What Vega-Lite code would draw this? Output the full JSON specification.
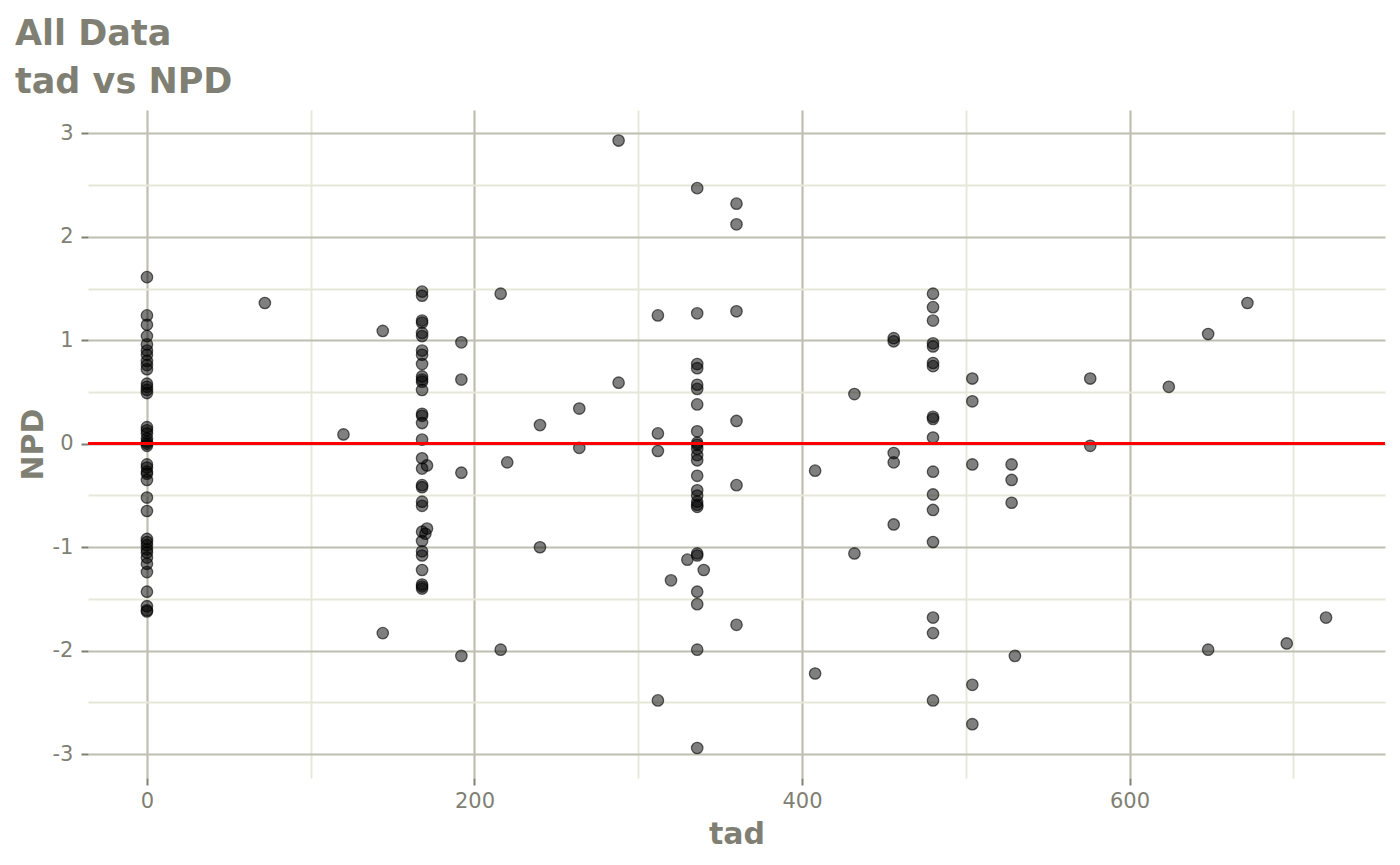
{
  "$schema": "https://vega.github.io/schema/vega-lite/v6.json",
  "width": 1297,
  "height": 668,
  "autosize": {"type": "none"},
  "padding": {"left": 88, "top": 110, "right": 15, "bottom": 87},
  "background": "white",
  "config": {
    "view": {"stroke": null},
    "font": "DejaVu Sans"
  },
  "title": {
    "text": ["All Data", "tad vs NPD"],
    "anchor": "start",
    "frame": "group",
    "dx": -73,
    "fontSize": 35,
    "lineHeight": 48,
    "font": "DejaVu Sans",
    "fontWeight": "bold",
    "color": "#7f7f74",
    "offset": 10
  },
  "data": {
    "values": [
      {"tad": 0, "NPD": 1.61}, {"tad": 0, "NPD": 1.24}, {"tad": 0, "NPD": 1.15}, {"tad": 0, "NPD": 1.04},
      {"tad": 0, "NPD": 0.96}, {"tad": 0, "NPD": 0.9}, {"tad": 0, "NPD": 0.86}, {"tad": 0, "NPD": 0.8},
      {"tad": 0, "NPD": 0.76}, {"tad": 0, "NPD": 0.72}, {"tad": 0, "NPD": 0.58}, {"tad": 0, "NPD": 0.55},
      {"tad": 0, "NPD": 0.52}, {"tad": 0, "NPD": 0.49}, {"tad": 0, "NPD": 0.16}, {"tad": 0, "NPD": 0.13},
      {"tad": 0, "NPD": 0.1}, {"tad": 0, "NPD": 0.05}, {"tad": 0, "NPD": 0.02}, {"tad": 0, "NPD": 0.0},
      {"tad": 0, "NPD": -0.02}, {"tad": 0, "NPD": -0.2}, {"tad": 0, "NPD": -0.23}, {"tad": 0, "NPD": -0.27},
      {"tad": 0, "NPD": -0.29}, {"tad": 0, "NPD": -0.35}, {"tad": 0, "NPD": -0.52}, {"tad": 0, "NPD": -0.65},
      {"tad": 0, "NPD": -0.92}, {"tad": 0, "NPD": -0.95}, {"tad": 0, "NPD": -0.98}, {"tad": 0, "NPD": -1.02},
      {"tad": 0, "NPD": -1.05}, {"tad": 0, "NPD": -1.1}, {"tad": 0, "NPD": -1.16}, {"tad": 0, "NPD": -1.24},
      {"tad": 0, "NPD": -1.43}, {"tad": 0, "NPD": -1.57}, {"tad": 0, "NPD": -1.61}, {"tad": 0, "NPD": -1.62},
      {"tad": 72, "NPD": 1.36},
      {"tad": 120, "NPD": 0.09},
      {"tad": 144, "NPD": 1.09}, {"tad": 144, "NPD": -1.83},
      {"tad": 168, "NPD": 1.47}, {"tad": 168, "NPD": 1.43}, {"tad": 168, "NPD": 1.19}, {"tad": 168, "NPD": 1.17},
      {"tad": 168, "NPD": 1.07}, {"tad": 168, "NPD": 1.04}, {"tad": 168, "NPD": 0.9}, {"tad": 168, "NPD": 0.86},
      {"tad": 168, "NPD": 0.77}, {"tad": 168, "NPD": 0.65}, {"tad": 168, "NPD": 0.62}, {"tad": 168, "NPD": 0.6},
      {"tad": 168, "NPD": 0.52}, {"tad": 168, "NPD": 0.29}, {"tad": 168, "NPD": 0.27}, {"tad": 168, "NPD": 0.2},
      {"tad": 168, "NPD": 0.04}, {"tad": 168, "NPD": -0.14}, {"tad": 168, "NPD": -0.24}, {"tad": 168, "NPD": -0.4},
      {"tad": 168, "NPD": -0.42}, {"tad": 168, "NPD": -0.56}, {"tad": 168, "NPD": -0.6}, {"tad": 168, "NPD": -0.85},
      {"tad": 168, "NPD": -0.94}, {"tad": 168, "NPD": -1.04}, {"tad": 168, "NPD": -1.08}, {"tad": 168, "NPD": -1.22},
      {"tad": 168, "NPD": -1.36}, {"tad": 168, "NPD": -1.38}, {"tad": 168, "NPD": -1.4},
      {"tad": 171, "NPD": -0.21}, {"tad": 171, "NPD": -0.82}, {"tad": 170, "NPD": -0.87},
      {"tad": 192, "NPD": 0.98}, {"tad": 192, "NPD": 0.62}, {"tad": 192, "NPD": -0.28}, {"tad": 192, "NPD": -2.05},
      {"tad": 216, "NPD": 1.45}, {"tad": 216, "NPD": -1.99}, {"tad": 220, "NPD": -0.18},
      {"tad": 240, "NPD": 0.18}, {"tad": 240, "NPD": -1.0},
      {"tad": 264, "NPD": 0.34}, {"tad": 264, "NPD": -0.04},
      {"tad": 288, "NPD": 2.93}, {"tad": 288, "NPD": 0.59},
      {"tad": 312, "NPD": 1.24}, {"tad": 312, "NPD": 0.1}, {"tad": 312, "NPD": -0.07}, {"tad": 312, "NPD": -2.48},
      {"tad": 320, "NPD": -1.32},
      {"tad": 330, "NPD": -1.12},
      {"tad": 336, "NPD": 2.47}, {"tad": 336, "NPD": 1.26}, {"tad": 336, "NPD": 0.77}, {"tad": 336, "NPD": 0.73},
      {"tad": 336, "NPD": 0.57}, {"tad": 336, "NPD": 0.53}, {"tad": 336, "NPD": 0.38}, {"tad": 336, "NPD": 0.12},
      {"tad": 336, "NPD": 0.01}, {"tad": 336, "NPD": -0.01}, {"tad": 336, "NPD": -0.05}, {"tad": 336, "NPD": -0.11},
      {"tad": 336, "NPD": -0.16}, {"tad": 336, "NPD": -0.31}, {"tad": 336, "NPD": -0.45}, {"tad": 336, "NPD": -0.5},
      {"tad": 336, "NPD": -0.56}, {"tad": 336, "NPD": -0.59}, {"tad": 336, "NPD": -0.61}, {"tad": 336, "NPD": -1.06},
      {"tad": 336, "NPD": -1.08}, {"tad": 336, "NPD": -1.43}, {"tad": 336, "NPD": -1.55}, {"tad": 336, "NPD": -1.99},
      {"tad": 336, "NPD": -2.94},
      {"tad": 340, "NPD": -1.22},
      {"tad": 360, "NPD": 2.32}, {"tad": 360, "NPD": 2.12}, {"tad": 360, "NPD": 1.28}, {"tad": 360, "NPD": 0.22},
      {"tad": 360, "NPD": -0.4}, {"tad": 360, "NPD": -1.75},
      {"tad": 408, "NPD": -0.26}, {"tad": 408, "NPD": -2.22},
      {"tad": 432, "NPD": 0.48}, {"tad": 432, "NPD": -1.06},
      {"tad": 456, "NPD": 1.02}, {"tad": 456, "NPD": 0.99}, {"tad": 456, "NPD": -0.09}, {"tad": 456, "NPD": -0.18},
      {"tad": 456, "NPD": -0.78},
      {"tad": 480, "NPD": 1.45}, {"tad": 480, "NPD": 1.32}, {"tad": 480, "NPD": 1.19}, {"tad": 480, "NPD": 0.97},
      {"tad": 480, "NPD": 0.94}, {"tad": 480, "NPD": 0.78}, {"tad": 480, "NPD": 0.75}, {"tad": 480, "NPD": 0.26},
      {"tad": 480, "NPD": 0.24}, {"tad": 480, "NPD": 0.06}, {"tad": 480, "NPD": -0.27}, {"tad": 480, "NPD": -0.49},
      {"tad": 480, "NPD": -0.64}, {"tad": 480, "NPD": -0.95}, {"tad": 480, "NPD": -1.68}, {"tad": 480, "NPD": -1.83},
      {"tad": 480, "NPD": -2.48},
      {"tad": 504, "NPD": 0.63}, {"tad": 504, "NPD": 0.41}, {"tad": 504, "NPD": -0.2}, {"tad": 504, "NPD": -2.33},
      {"tad": 504, "NPD": -2.71},
      {"tad": 528, "NPD": -0.2}, {"tad": 528, "NPD": -0.35}, {"tad": 528, "NPD": -0.57}, {"tad": 530, "NPD": -2.05},
      {"tad": 576, "NPD": 0.63}, {"tad": 576, "NPD": -0.02},
      {"tad": 624, "NPD": 0.55},
      {"tad": 648, "NPD": 1.06}, {"tad": 648, "NPD": -1.99},
      {"tad": 672, "NPD": 1.36},
      {"tad": 696, "NPD": -1.93},
      {"tad": 720, "NPD": -1.68}
    ]
  },
  "layer": [
    {
      "mark": {"type": "point", "filled": false, "shape": "circle", "size": 130, "fill": "black", "fillOpacity": 0.5, "stroke": "black", "strokeOpacity": 0.6, "strokeWidth": 1.3},
      "encoding": {
        "x": {
          "field": "tad", "type": "quantitative",
          "scale": {"domain": [-36, 756], "nice": false, "zero": false},
          "axis": {
            "values": [0, 100, 200, 300, 400, 500, 600, 700],
            "labelExpr": "datum.value % 200 === 0 ? toString(datum.value) : ''",
            "domain": false,
            "grid": true,
            "gridColor": {"condition": {"test": "datum.value % 200 === 0", "value": "#bebeb1"}, "value": "#e6e7d8"},
            "gridWidth": {"condition": {"test": "datum.value % 200 === 0", "value": 2.2}, "value": 1.8},
            "ticks": true,
            "tickSize": 7,
            "tickWidth": 2,
            "tickColor": "#7f7f74",
            "tickOpacity": {"condition": {"test": "datum.value % 200 === 0", "value": 1}, "value": 0},
            "labelFontSize": 21,
            "labelColor": "#7f7f74",
            "labelFont": "DejaVu Sans",
            "labelPadding": 5,
            "title": "tad",
            "titleFontSize": 30,
            "titleFont": "DejaVu Sans",
            "titleFontWeight": "bold",
            "titleColor": "#7f7f74",
            "titlePadding": 8
          }
        },
        "y": {
          "field": "NPD", "type": "quantitative",
          "scale": {"domain": [-3.23, 3.225], "nice": false, "zero": false},
          "axis": {
            "values": [-3, -2.5, -2, -1.5, -1, -0.5, 0, 0.5, 1, 1.5, 2, 2.5, 3],
            "labelExpr": "datum.value % 1 === 0 ? toString(datum.value) : ''",
            "domain": false,
            "grid": true,
            "gridColor": {"condition": {"test": "datum.value % 1 === 0", "value": "#bebeb1"}, "value": "#e6e7d8"},
            "gridWidth": {"condition": {"test": "datum.value % 1 === 0", "value": 2.2}, "value": 1.8},
            "ticks": true,
            "tickSize": 7,
            "tickWidth": 2,
            "tickColor": "#7f7f74",
            "tickOpacity": {"condition": {"test": "datum.value % 1 === 0", "value": 1}, "value": 0},
            "labelFontSize": 21,
            "labelColor": "#7f7f74",
            "labelFont": "DejaVu Sans",
            "labelPadding": 8,
            "title": "NPD",
            "titleFontSize": 30,
            "titleFont": "DejaVu Sans",
            "titleFontWeight": "bold",
            "titleColor": "#7f7f74",
            "titlePadding": 4
          }
        }
      }
    },
    {
      "mark": {"type": "rule", "color": "#ff0000", "strokeWidth": 2.5},
      "encoding": {"y": {"datum": 0}}
    }
  ]
}
